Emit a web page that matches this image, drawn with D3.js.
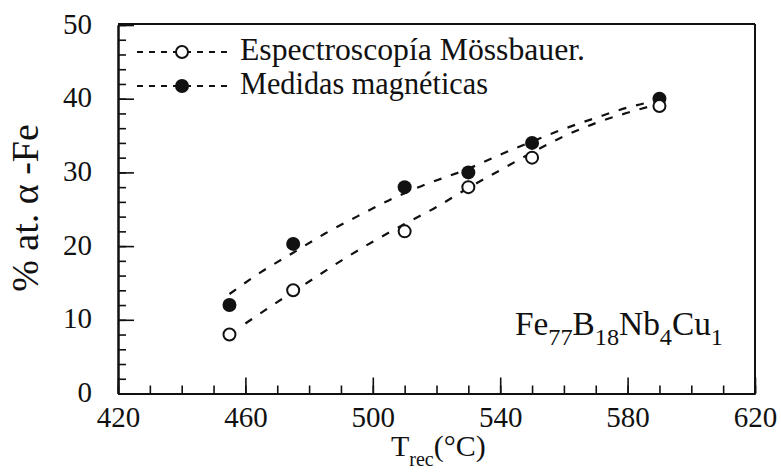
<!DOCTYPE html>
<html><head><meta charset="utf-8">
<script src="https://cdn.jsdelivr.net/npm/d3@7"></script>
<style>body{margin:0;background:#fff}svg{display:block}svg text{font-family:"Liberation Serif","Times New Roman",serif !important;fill:#111}</style>
</head><body>
<script>
const temps = [455, 475, 510, 530, 550, 590];
const mossbauer = [8, 14, 22, 28, 32, 39];
const magneticas = [12, 20.3, 28, 30, 34, 40];
const fitMossX = [460, 470, 480, 490, 500, 510, 520, 530, 540, 550, 560, 570, 580, 590];
const fitMossY = [9.5, 12.4, 15.2, 18.0, 20.6, 23.0, 25.3, 27.9, 30.3, 32.7, 34.9, 36.7, 38.1, 39.3];
const fitMagX = [455, 465, 475, 485, 495, 505, 515, 530, 540, 550, 560, 570, 580, 590];
const fitMagY = [13.5, 16.5, 19.1, 21.7, 24.0, 26.2, 28.1, 30.5, 32.4, 34.2, 35.9, 37.4, 38.8, 39.8];
const xTicks = [420, 460, 500, 540, 580, 620];
const yTicks = [0, 10, 20, 30, 40, 50];
const legendLabels = ["Espectroscopía Mössbauer.", "Medidas magnéticas"];

const W = 781, H = 474;
const x = d3.scaleLinear().domain([420, 620]).range([118, 755]);
const y = d3.scaleLinear().domain([0, 50]).range([393.5, 25]);
const svg = d3.select("body").append("svg").attr("width", W).attr("height", H);

// frame
svg.append("line").attr("x1", 118).attr("x2", 755).attr("y1", 24).attr("y2", 24).attr("stroke", "#111").attr("stroke-width", 2);
svg.append("line").attr("x1", 755).attr("x2", 755).attr("y1", 24).attr("y2", 393.5).attr("stroke", "#111").attr("stroke-width", 2);

// minor ticks
const gxm = svg.append("g").attr("transform", "translate(0,393.5)")
  .call(d3.axisBottom(x).tickValues(d3.range(420, 621, 10)).tickSizeInner(-8).tickSizeOuter(0).tickFormat(""));
const gym = svg.append("g").attr("transform", "translate(118,0)")
  .call(d3.axisLeft(y).tickValues(d3.range(0, 51, 2)).tickSizeInner(-8).tickSizeOuter(0).tickFormat(""));
// major
const gx = svg.append("g").attr("transform", "translate(0,393.5)")
  .call(d3.axisBottom(x).tickValues(xTicks).tickSizeInner(-16).tickSizeOuter(0).tickPadding(13).tickFormat(d3.format("d")));
const gy = svg.append("g").attr("transform", "translate(118,0)")
  .call(d3.axisLeft(y).tickValues(yTicks).tickSizeInner(-16).tickSizeOuter(0).tickPadding(26).tickFormat(d3.format("d")));
[gxm, gym, gx, gy].forEach(g => {
  g.attr("font-family", null);
  g.selectAll("path.domain").attr("stroke", "#111").attr("stroke-width", 2);
  g.selectAll(".tick line").attr("stroke", "#111").attr("stroke-width", 1.6);
  g.selectAll("text").style("font-family", "'Liberation Serif', serif").attr("font-size", 29).attr("fill", "#111");
});
gy.selectAll("text").attr("dy", "0.28em");

// fit curves
const line = d3.line().x(d => x(d[0])).y(d => y(d[1])).curve(d3.curveMonotoneX);
const fitMoss = fitMossX.map((v, i) => [v, fitMossY[i]]);
const fitMag = fitMagX.map((v, i) => [v, fitMagY[i]]);
[fitMoss, fitMag].forEach(d => {
  svg.append("path").attr("d", line(d)).attr("fill", "none").attr("stroke", "#111")
    .attr("stroke-width", 2.2).attr("stroke-dasharray", "8,10");
});

// points
temps.forEach((t, i) => {
  svg.append("circle").attr("cx", x(t)).attr("cy", y(magneticas[i])).attr("r", 7).attr("fill", "#111");
  svg.append("circle").attr("cx", x(t)).attr("cy", y(mossbauer[i])).attr("r", 6).attr("fill", "#fff").attr("stroke", "#111").attr("stroke-width", 2);
});

// legend
const legY = [52, 86];
const legLen = [345, 248];
legendLabels.forEach((lab, i) => {
  svg.append("line").attr("x1", 137).attr("x2", 229).attr("y1", legY[i]).attr("y2", legY[i])
    .attr("stroke", "#111").attr("stroke-width", 1.8).attr("stroke-dasharray", "6,6");
  if (i === 0) svg.append("circle").attr("cx", 182).attr("cy", legY[i]).attr("r", 6).attr("fill", "#fff").attr("stroke", "#111").attr("stroke-width", 2);
  else svg.append("circle").attr("cx", 182).attr("cy", legY[i]).attr("r", 7).attr("fill", "#111");
  svg.append("text").attr("x", 240).attr("y", legY[i] + 8).attr("font-size", 31)
    .attr("textLength", legLen[i]).attr("lengthAdjust", "spacingAndGlyphs").text(lab);
});

// composition label
const comp = svg.append("text").attr("x", 515).attr("y", 335).attr("font-size", 33)
  .attr("textLength", 208).attr("lengthAdjust", "spacingAndGlyphs");
[["Fe", false], ["77", true], ["B", false], ["18", true], ["Nb", false], ["4", true], ["Cu", false], ["1", true]].forEach(([s, sub], i) => {
  const ts = comp.append("tspan").text(s);
  if (sub) ts.attr("font-size", 24).attr("dy", 10);
  else if (i > 0) ts.attr("dy", -10);
});

// axis titles
const xt = svg.append("text").attr("x", 391).attr("y", 456).attr("font-size", 30);
xt.append("tspan").text("T");
xt.append("tspan").text("rec").attr("font-size", 20).attr("dy", 10);
xt.append("tspan").text("(°C)").attr("dy", -10);

svg.append("text").attr("transform", "translate(38,208) rotate(-90)").attr("text-anchor", "middle")
  .attr("font-size", 38).text("% at. α -Fe");
</script>
</body></html>
